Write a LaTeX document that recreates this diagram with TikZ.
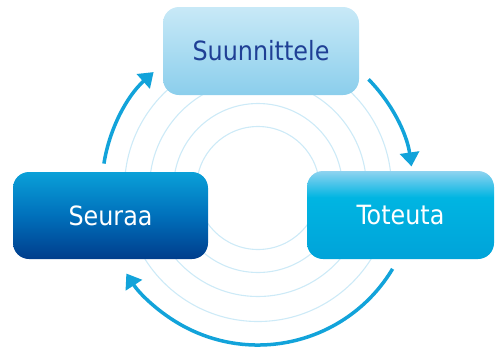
\documentclass[tikz,border=0pt]{standalone}
\usepackage{fontspec}
\setmainfont{DejaVu Sans Condensed}
\usetikzlibrary{arrows.meta,calc}
\definecolor{ring}{HTML}{CDEAF7}
\definecolor{arrowblue}{HTML}{12A3DA}
\definecolor{topA}{HTML}{C8E9F7}
\definecolor{topB}{HTML}{8BCEEC}
\definecolor{leftA}{HTML}{0AA0D8}
\definecolor{leftM}{HTML}{0070BB}
\definecolor{leftB}{HTML}{003D8C}
\definecolor{rightA}{HTML}{8FD3F0}
\definecolor{rightM}{HTML}{00B5E2}
\definecolor{rightB}{HTML}{00A3D9}
\definecolor{darktext}{HTML}{1F3F95}
\pgfdeclareverticalshading{rightshade}{100bp}{color(0bp)=(rightB); color(25bp)=(rightB); color(60bp)=(rightM); color(75bp)=(rightA); color(100bp)=(rightA)}
\tikzset{
  stepbox/.style={rounded corners=16pt, inner sep=0pt, font=\fontsize{26.5}{30}\selectfont},
  arr/.style={draw=arrowblue, line width=3.5pt, -{Triangle[length=14pt,width=19pt]}},
  ringline/.style={draw=ring, line width=1.1pt}
}
\begin{document}
\begin{tikzpicture}[x=1pt,y=1pt]
\useasboundingbox (0,0) rectangle (498,-349);
\coordinate (c) at (258,-188);
\foreach \r in {61.5,84.5,108.5,133.5}{
  \draw[ringline] (c) circle[radius=\r];
}
\node[stepbox, minimum width=196pt, minimum height=88pt, top color=topA, bottom color=topB, middle color={topA!50!topB}, text=darktext] (plan) at (261,-51) {Suunnittele};
\node[stepbox, minimum width=195pt, minimum height=87pt, top color=leftA, bottom color=leftB, middle color=leftM, text=white] (follow) at (110.5,-215.5) {Seuraa};
\node[stepbox, minimum width=187pt, minimum height=88pt, shading=rightshade, text=white] (do) at (400.5,-215) {Toteuta};
\coordinate (a1s) at ($(c)+(171:156)$);
\coordinate (a2s) at ($(c)+(44.5:155)$);
\coordinate (a3s) at ($(c)+(-31:157)$);
\draw[arr] (a1s) arc[start angle=171, end angle=132, radius=156];
\draw[arr] (a2s) arc[start angle=44.5, end angle=8, radius=155];
\draw[arr] (a3s) arc[start angle=-31, end angle=-147, radius=157];
\end{tikzpicture}
\end{document}
